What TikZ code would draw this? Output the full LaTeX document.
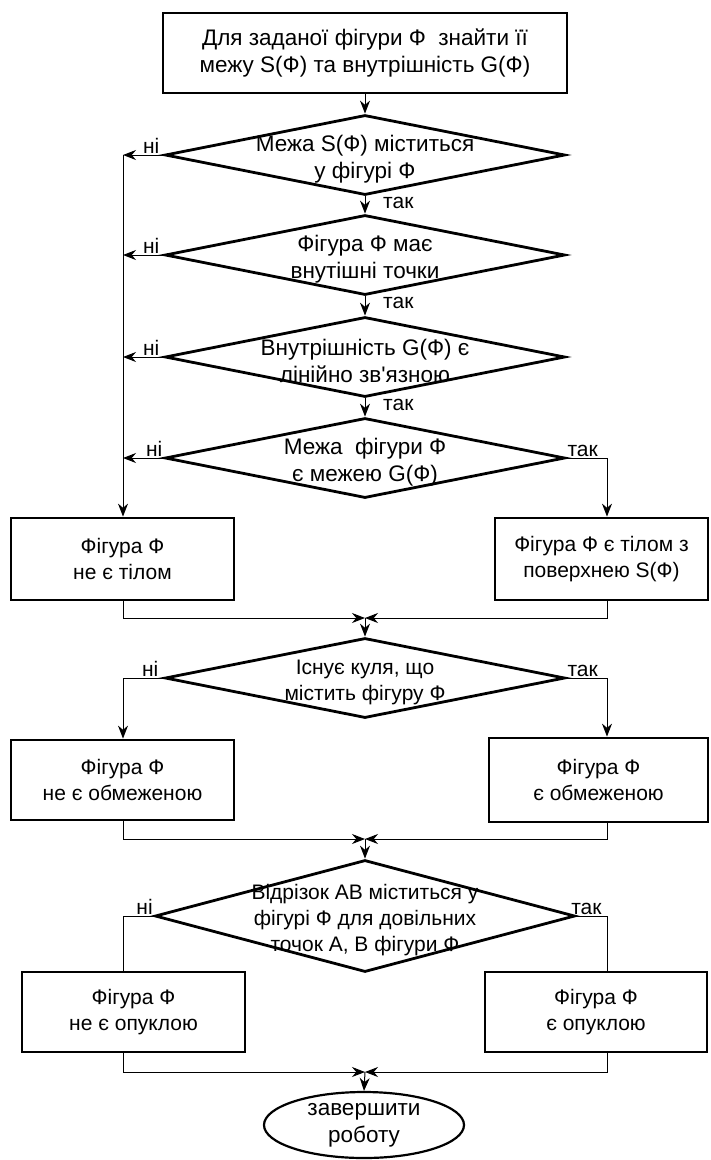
\documentclass[tikz,border=0pt]{standalone}
\usepackage{fontspec}
\setmainfont{Liberation Sans}
\usetikzlibrary{shapes.geometric}
\usetikzlibrary{arrows.meta}

\tikzset{
  blok/.style={rectangle, draw, line width=2.8pt, align=center, inner sep=0pt},
  rishennia/.style={diamond, draw, line width=2.8pt, inner sep=0pt, minimum width=400pt, minimum height=80pt},
  napys/.style={align=center, inner sep=0pt},
  velykyi/.style={font=\fontsize{22.5}{27}\selectfont},
  kinets/.style={ellipse, draw, line width=2.2pt, minimum width=200pt, minimum height=66pt, align=center, inner sep=0pt},
  strilka/.style={line width=1pt, -{Stealth[length=13pt,width=10pt]}},
  liniia/.style={line width=1pt},
  mitka/.style={inner sep=1pt}
}

\begin{document}
\begin{tikzpicture}[x=1pt,y=-1pt,font=\fontsize{21}{26}\selectfont]
\useasboundingbox (0,0) rectangle (710,1160);
\coordinate (lx) at (123,0);
\coordinate (rx) at (607,0);
\coordinate (m1) at (365,618);
\coordinate (m2) at (365,839);
\coordinate (m3) at (365,1072);

\node[blok,velykyi,minimum width=404pt,minimum height=80pt] (pochatok) at (365,53) {Для заданої фігури Ф\ \ знайти її\\межу S(Ф) та внутрішність G(Ф)};

\node[rishennia] (d1) at (365,155) {};
\node[napys,velykyi] (t1) at ([yshift=-4pt]d1.center) {Межа S(Ф) міститься\\у фігурі Ф};
\node[rishennia] (d2) at (365,255) {};
\node[napys,velykyi] (t2) at ([yshift=-4pt]d2.center) {Фігура Ф має\\внутішні точки};
\node[rishennia] (d3) at (365,357) {};
\node[napys,velykyi] (t3) at ([yshift=-4pt]d3.center) {Внутрішність G(Ф) є\\лінійно зв\textquotesingle язною};
\node[rishennia] (d4) at (365,458) {};
\node[napys,velykyi] (t4) at ([yshift=-4pt]d4.center) {Межа\ \ фігури Ф\\є межею G(Ф)};

\node[blok,minimum width=223pt,minimum height=82pt] (netilo) at (122.5,559) {Фігура Ф\\не є тілом};
\node[blok,minimum width=213pt,minimum height=82pt] (tilo) at (601.5,559) {Фігура Ф є тілом з\\поверхнею S(Ф)};

\node[rishennia] (d5) at (365,678) {};
\node[napys] (t5) at ([yshift=-4pt]d5.center) {Існує куля, що\\містить фігуру Ф};

\node[blok,minimum width=223pt,minimum height=80pt] (neobm) at (122.5,780) {Фігура Ф\\не є обмеженою};
\node[blok,minimum width=219pt,minimum height=84pt] (obm) at (598.5,780) {Фігура Ф\\є обмеженою};

\node[rishennia,minimum width=420pt,minimum height=112pt] (d6) at (365,916) {};
\node[napys] (t6) at ([yshift=-4pt]d6.center) {Відрізок АВ міститься у\\фігурі Ф для довільних\\точок А, В фігури Ф};

\node[blok,minimum width=223pt,minimum height=80pt] (neopuk) at (133.5,1012) {Фігура Ф\\не є опуклою};
\node[blok,minimum width=222pt,minimum height=80pt] (opuk) at (596,1012) {Фігура Ф\\є опуклою};

\node[kinets,velykyi] (kinets) at (364,1125) {завершити\\роботу};

\draw[strilka] (pochatok.south) -- (d1.north);
\draw[strilka] (d1.south) -- (d2.north);
\draw[strilka] (d2.south) -- (d3.north);
\draw[strilka] (d3.south) -- (d4.north);
\draw[strilka] (d1.west) -- (d1.west -| lx);
\draw[strilka] (d2.west) -- (d2.west -| lx);
\draw[strilka] (d3.west) -- (d3.west -| lx);
\draw[strilka] (d4.west) -- (d4.west -| lx);
\draw[strilka] (d1.west -| lx) -- (lx |- netilo.north);
\draw[strilka] (d4.east) -| (rx |- tilo.north);
\draw[strilka] (lx |- netilo.south) |- (m1);
\draw[strilka] (rx |- tilo.south) |- (m1);
\draw[strilka] (m1) -- (d5.north);
\draw[strilka] (d5.west) -| (lx |- neobm.north);
\draw[strilka] (d5.east) -| (rx |- obm.north);
\draw[strilka] (lx |- neobm.south) |- (m2);
\draw[strilka] (rx |- obm.south) |- (m2);
\draw[strilka] (m2) -- (d6.north);
\draw[liniia] (d6.west) -| (lx |- neopuk.north);
\draw[liniia] (d6.east) -| (rx |- opuk.north);
\draw[strilka] (lx |- neopuk.south) |- (m3);
\draw[strilka] (rx |- opuk.south) |- (m3);
\draw[strilka] (m3) -- (kinets.north);

\node[mitka,anchor=south east] (ni1) at ([xshift=-3pt]d1.west) {ні};
\node[mitka,anchor=south east] (ni2) at ([xshift=-3pt]d2.west) {ні};
\node[mitka,anchor=south east] (ni3) at ([xshift=-3pt]d3.west) {ні};
\node[mitka,anchor=south east] (ni4) at (d4.west) {ні};
\node[mitka,anchor=south east] (ni5) at ([xshift=-4pt]d5.west) {ні};
\node[mitka,anchor=south] (ni6) at ([xshift=-9pt]d6.west) {ні};
\node[mitka,anchor=north west] (tak1) at ([xshift=17pt]d1.south) {так};
\node[mitka,anchor=north west] (tak2) at ([xshift=17pt]d2.south) {так};
\node[mitka,anchor=north west] (tak3) at ([xshift=17pt]d3.south) {так};
\node[mitka,anchor=south west] (tak4) at (d4.east) {так};
\node[mitka,anchor=south west] (tak5) at (d5.east) {так};
\node[mitka,anchor=south] (tak6) at ([xshift=10pt]d6.east) {так};
\end{tikzpicture}
\end{document}
